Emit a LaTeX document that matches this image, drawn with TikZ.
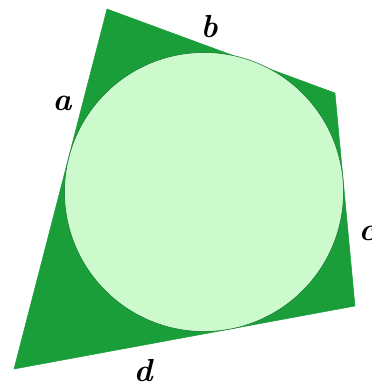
\documentclass[tikz,border=0pt]{standalone}
\usepackage{tikz}

\definecolor{quadgreen}{RGB}{26,158,58}
\definecolor{circgreen}{RGB}{205,250,205}

\begin{document}
\begin{tikzpicture}[x=1bp,y=-1bp,
    side/.style={fill=quadgreen,draw=quadgreen,line width=0.5pt,line join=miter},
    incircle/.style={fill=circgreen,draw=quadgreen!70!black,line width=0.5pt},
    sidelabel/.style={font=\fontsize{32}{32}\selectfont\bfseries\itshape,inner sep=0pt}]

  \useasboundingbox (0,0) rectangle (372,387);

  % --- quadrilateral ---
  \coordinate (A) at (107,9);
  \coordinate (B) at (335,93);
  \coordinate (C) at (355,306);
  \coordinate (D) at (14,369);
  \filldraw[side] (A) -- (B) -- (C) -- (D) -- cycle;

  % --- incircle ---
  \coordinate (O) at (204,192);
  \def\rad{139.5bp}
  \filldraw[incircle] (O) circle[radius=\rad];

  % --- side labels ---
  \node[sidelabel] (la) at (62,103) {a};
  \node[sidelabel] (lb) at (209,27) {b};
  \node[sidelabel] (lc) at (367,233) {c};
  \node[sidelabel] (ld) at (143,371) {d};

\end{tikzpicture}
\end{document}
